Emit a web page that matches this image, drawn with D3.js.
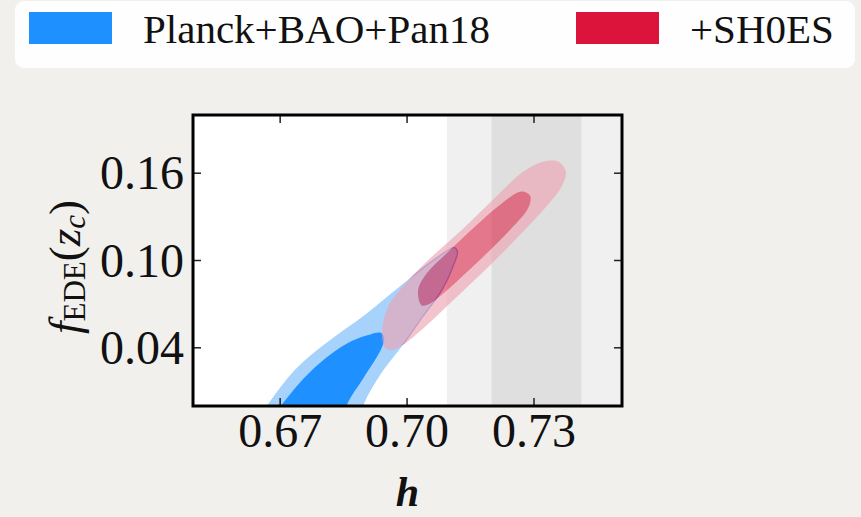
<!DOCTYPE html>
<html>
<head>
<meta charset="utf-8">
<script src="https://cdn.jsdelivr.net/npm/d3@7"></script>
<style>
  html, body { margin: 0; padding: 0; background: #f1f0ed; }
  svg { display: block; }
  text { font-family: "Liberation Serif", "DejaVu Serif", serif; fill: #111; }
</style>
</head>
<body>
<svg id="chart" width="861" height="517"></svg>
<script>
// ---- data ----
const seriesNames = ["Planck+BAO+Pan18", "+SH0ES"];
const seriesColors = ["#1e90ff", "#dc143c"];
const xTicks = [0.67, 0.70, 0.73];
const yTicks = [0.04, 0.10, 0.16];
const xDomain = [0.6494, 0.7508];
const yDomain = [0.0, 0.20];
// SH0ES h band: centre and 1-sigma
const shoesH = 0.7306;
const shoesSigma = 0.0106;

// contour outlines as [h, fEDE] points
const blueOuter = [
  [0.6600, -0.030], [0.6667, -0.0005], [0.6735, 0.0250], [0.6812, 0.0440],
  [0.6900, 0.0625], [0.6995, 0.0850], [0.7076, 0.1030], [0.7111, 0.1088],
  [0.7119, 0.1060], [0.7108, 0.0956], [0.7082, 0.0795], [0.7036, 0.0611],
  [0.6989, 0.0416], [0.6938, 0.0221], [0.6895, -0.0005], [0.6866, -0.030]
];
const blueInner = [
  [0.6630, -0.030], [0.6700, -0.0005], [0.6776, 0.0250], [0.6855, 0.0425],
  [0.6904, 0.0484], [0.6938, 0.0503], [0.6946, 0.0462], [0.6937, 0.0382],
  [0.6898, 0.0198], [0.6856, -0.0005], [0.6835, -0.030]
];
const redOuter = [
  [0.6948, 0.0400], [0.6941, 0.0520], [0.6955, 0.0682], [0.6990, 0.0822],
  [0.7052, 0.1008], [0.7131, 0.1215], [0.7209, 0.1434], [0.7272, 0.1604],
  [0.7321, 0.1678], [0.7358, 0.1678], [0.7375, 0.1611], [0.7367, 0.1518],
  [0.7331, 0.1378], [0.7268, 0.1180], [0.7190, 0.0950], [0.7111, 0.0732],
  [0.7040, 0.0538], [0.6992, 0.0424], [0.6963, 0.0384]
];
const redInner = [
  [0.7034, 0.0692], [0.7026, 0.0795], [0.7046, 0.0910], [0.7093, 0.1048],
  [0.7156, 0.1221], [0.7219, 0.1382], [0.7270, 0.1474], [0.7291, 0.1444],
  [0.7286, 0.1359], [0.7247, 0.1221], [0.7188, 0.1048], [0.7129, 0.0887],
  [0.7081, 0.0761], [0.7050, 0.0697]
];

// ---- layout ----
const svg = d3.select("#chart");
const plot = { left: 193, right: 622, top: 115, bottom: 406 };
const x = d3.scaleLinear().domain(xDomain).range([plot.left, plot.right]);
const y = d3.scaleLinear().domain(yDomain).range([plot.bottom, plot.top]);
const line = d3.line().x(d => x(d[0])).y(d => y(d[1])).curve(d3.curveCatmullRomClosed.alpha(0.5));

// legend
const leg = svg.append("g");
leg.append("rect").attr("x", 15).attr("y", 1).attr("width", 840).attr("height", 67)
  .attr("rx", 9).attr("fill", "#fefefe");
const legX = [29, 576], legTextX = [143, 690];
seriesNames.forEach((n, i) => {
  leg.append("rect").attr("x", legX[i]).attr("y", 12).attr("width", 83).attr("height", 32)
    .attr("fill", seriesColors[i]);
  leg.append("text").attr("x", legTextX[i]).attr("y", 43).attr("font-size", 41).text(n);
});

// clips
const defs = svg.append("defs");
defs.append("clipPath").attr("id", "clip")
  .append("rect").attr("x", plot.left).attr("y", plot.top)
  .attr("width", plot.right - plot.left).attr("height", plot.bottom - plot.top);
defs.append("clipPath").attr("id", "redclip").append("path").attr("d", line(redOuter));

const g = svg.append("g").attr("clip-path", "url(#clip)");
g.append("rect").attr("x", plot.left).attr("y", plot.top)
  .attr("width", plot.right - plot.left).attr("height", plot.bottom - plot.top).attr("fill", "#ffffff");

// SH0ES bands
g.append("rect").attr("x", x(shoesH - 2 * shoesSigma)).attr("y", plot.top)
  .attr("width", x(shoesH + 2 * shoesSigma) - x(shoesH - 2 * shoesSigma))
  .attr("height", plot.bottom - plot.top).attr("fill", "#f0f0f0");
g.append("rect").attr("x", x(shoesH - shoesSigma)).attr("y", plot.top)
  .attr("width", x(shoesH + shoesSigma) - x(shoesH - shoesSigma))
  .attr("height", plot.bottom - plot.top).attr("fill", "#dfdfdf");

g.append("path").attr("d", line(blueOuter)).attr("fill", "#a6d2fb");
g.append("path").attr("d", line(blueInner)).attr("fill", "#1e90ff");
// blue 95% outline, visible only where the SH0ES contour overlays it
g.append("g").attr("clip-path", "url(#redclip)")
  .append("path").attr("d", line(blueOuter)).attr("fill", "none")
  .attr("stroke", "#6f8fe6").attr("stroke-width", 1.3);
// outer ring (95%) and inner (68%) region of the SH0ES run
g.append("path").attr("d", line(redOuter) + line(redInner)).attr("fill-rule", "evenodd")
  .attr("fill", "#eca4b2").attr("fill-opacity", 0.65);
g.append("path").attr("d", line(redInner)).attr("fill", "#dc143c").attr("fill-opacity", 0.55);

// frame & ticks
const tickLen = 8;
const axG = svg.append("g");
xTicks.forEach(t => {
  axG.append("line").attr("x1", x(t)).attr("x2", x(t)).attr("y1", plot.bottom).attr("y2", plot.bottom - tickLen)
    .attr("stroke", "#222").attr("stroke-width", 1.5);
  axG.append("line").attr("x1", x(t)).attr("x2", x(t)).attr("y1", plot.top).attr("y2", plot.top + tickLen)
    .attr("stroke", "#222").attr("stroke-width", 1.5);
  axG.append("text").attr("x", x(t)).attr("y", 447).attr("text-anchor", "middle")
    .attr("font-size", 48).text(d3.format(".2f")(t));
});
yTicks.forEach(t => {
  axG.append("line").attr("x1", plot.left).attr("x2", plot.left + tickLen).attr("y1", y(t)).attr("y2", y(t))
    .attr("stroke", "#222").attr("stroke-width", 1.5);
  axG.append("line").attr("x1", plot.right).attr("x2", plot.right - tickLen).attr("y1", y(t)).attr("y2", y(t))
    .attr("stroke", "#222").attr("stroke-width", 1.5);
  axG.append("text").attr("x", 184).attr("y", y(t) + 16).attr("text-anchor", "end")
    .attr("font-size", 48).text(d3.format(".2f")(t));
});
axG.append("rect").attr("x", plot.left).attr("y", plot.top)
  .attr("width", plot.right - plot.left).attr("height", plot.bottom - plot.top)
  .attr("fill", "none").attr("stroke", "#000").attr("stroke-width", 3);

// axis labels
svg.append("text").attr("x", (plot.left + plot.right) / 2).attr("y", 506)
  .attr("text-anchor", "middle").attr("font-size", 42).attr("font-style", "italic")
  .attr("font-weight", "bold").text("h");

const yl = svg.append("text").attr("transform", "translate(80,267) rotate(-90)")
  .attr("text-anchor", "middle").attr("font-size", 45);
yl.append("tspan").attr("font-style", "italic").text("f");
yl.append("tspan").attr("font-size", 31).attr("dy", 5).text("EDE");
yl.append("tspan").attr("dy", -5).text("(");
yl.append("tspan").attr("font-style", "italic").text("z");
yl.append("tspan").attr("font-style", "italic").attr("font-size", 31).attr("dy", 5).text("c");
yl.append("tspan").attr("dy", -5).text(")");
</script>
</body>
</html>
